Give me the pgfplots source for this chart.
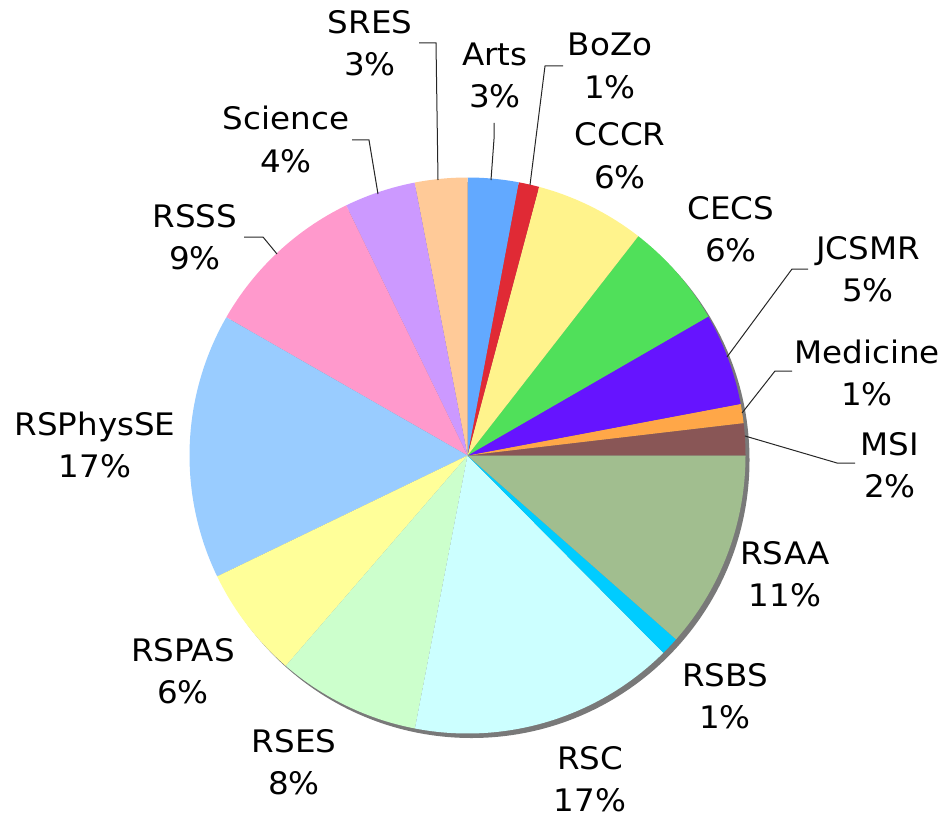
\documentclass[border=0pt]{standalone}
\usepackage{fontspec}
\setmainfont{DejaVu Sans}[FakeStretch=1.05]
\usepackage{pgfplots}
\usepackage{pgfplotstable}
\pgfplotsset{compat=1.18}
\definecolor{cMSI}{HTML}{895656}
\definecolor{cMedicine}{HTML}{FFA748}
\definecolor{cJCSMR}{HTML}{6614FF}
\definecolor{cCECS}{HTML}{50E05A}
\definecolor{cCCCR}{HTML}{FFF38C}
\definecolor{cBoZo}{HTML}{E02A35}
\definecolor{cArts}{HTML}{62A9FF}
\definecolor{cSRES}{HTML}{FFCA98}
\definecolor{cScience}{HTML}{CC99FF}
\definecolor{cRSSS}{HTML}{FF99CC}
\definecolor{cRSPhysSE}{HTML}{99CCFF}
\definecolor{cRSPAS}{HTML}{FFFF99}
\definecolor{cRSES}{HTML}{CCFFCC}
\definecolor{cRSC}{HTML}{CCFFFF}
\definecolor{cRSBS}{HTML}{00CCFF}
\definecolor{cRSAA}{HTML}{A1BE8F}
% share of each unit (percent), counter-clockwise from 3 o'clock
\pgfplotstableread{
name pct col
MSI 1.86 cMSI
Medicine 1.11 cMedicine
JCSMR 5.36 cJCSMR
CECS 6.14 cCECS
CCCR 6.39 cCCCR
BoZo 1.19 cBoZo
Arts 2.94 cArts
SRES 3.06 cSRES
Science 4.14 cScience
RSSS 9.53 cRSSS
RSPhysSE 15.44 cRSPhysSE
RSPAS 6.50 cRSPAS
RSES 8.31 cRSES
RSC 15.47 cRSC
RSBS 1.06 cRSBS
RSAA 11.50 cRSAA
}\pietable
\newcommand{\lab}[4]{%
  \node[anchor=base,inner sep=0pt] at (axis cs:#1,{816-(#2+11)}) {#3};
  \node[anchor=base,inner sep=0pt] at (axis cs:#1,{816-(#2+53)}) {#4};
}
\begin{document}
\begin{tikzpicture}[font=\fontsize{15.5}{18}\selectfont]
\begin{axis}[
  scale only axis, width=471pt, height=408pt,
  xmin=0, xmax=942, ymin=0, ymax=816,
  hide axis, clip=false]
\path (axis cs:0,0) rectangle (axis cs:942,816);
% shadow
\fill[gray!95!black] (axis cs:471.5,356) circle[radius=139pt];
\def\cum{0}
\pgfplotsforeachungrouped \i in {0,...,15}{%
  \pgfplotstablegetelem{\i}{pct}\of\pietable \let\p\pgfplotsretval
  \pgfplotstablegetelem{\i}{col}\of\pietable \let\c\pgfplotsretval
  \pgfmathsetmacro\a{\cum*3.6}%
  \pgfmathsetmacro\b{(\cum+\p)*3.6}%
  \edef\temp{\noexpand\fill[\c] (axis cs:467.5,360.5) -- ++(\a:139pt) arc[start angle=\a,end angle=\b,radius=139pt] -- cycle;}%
  \temp
  \pgfmathsetmacro\cum{\cum+\p}%
}
% leader lines
\begin{scope}[black!85, line width=0.5pt]
\draw (axis cs:419,{816-43}) -- (axis cs:436,{816-43}) -- (axis cs:438,{816-180});
\draw (axis cs:494,{816-123}) -- (axis cs:494,{816-139}) -- (axis cs:491,{816-180});
\draw (axis cs:563,{816-66}) -- (axis cs:545,{816-66}) -- (axis cs:530,{816-185});
\draw (axis cs:808,{816-269}) -- (axis cs:792,{816-269}) -- (axis cs:727,{816-357});
\draw (axis cs:792,{816-371}) -- (axis cs:775,{816-371}) -- (axis cs:742,{816-413});
\draw (axis cs:745,{816-436}) -- (axis cs:837,{816-463}) -- (axis cs:855,{816-463});
\draw (axis cs:244,{816-237}) -- (axis cs:263,{816-237}) -- (axis cs:277,{816-254});
\draw (axis cs:352,{816-140}) -- (axis cs:369,{816-140}) -- (axis cs:378,{816-194});
\end{scope}
% labels
\lab{370}{23}{SRES}{3\%}
\lab{495}{55}{Arts}{3\%}
\lab{610}{45}{BoZo}{1\%}
\lab{620}{135}{CCCR}{6\%}
\lab{731}{208}{CECS}{6\%}
\lab{868}{248}{JCSMR}{5\%}
\lab{867}{352}{Medicine}{1\%}
\lab{890}{444}{MSI}{2\%}
\lab{785}{553}{RSAA}{11\%}
\lab{725}{675}{RSBS}{1\%}
\lab{590}{758}{RSC}{17\%}
\lab{294}{741}{RSES}{8\%}
\lab{183}{650}{RSPAS}{6\%}
\lab{95}{424}{RSPhysSE}{17\%}
\lab{195}{216}{RSSS}{9\%}
\lab{286}{119}{Science}{4\%}
\end{axis}
\end{tikzpicture}
\end{document}
